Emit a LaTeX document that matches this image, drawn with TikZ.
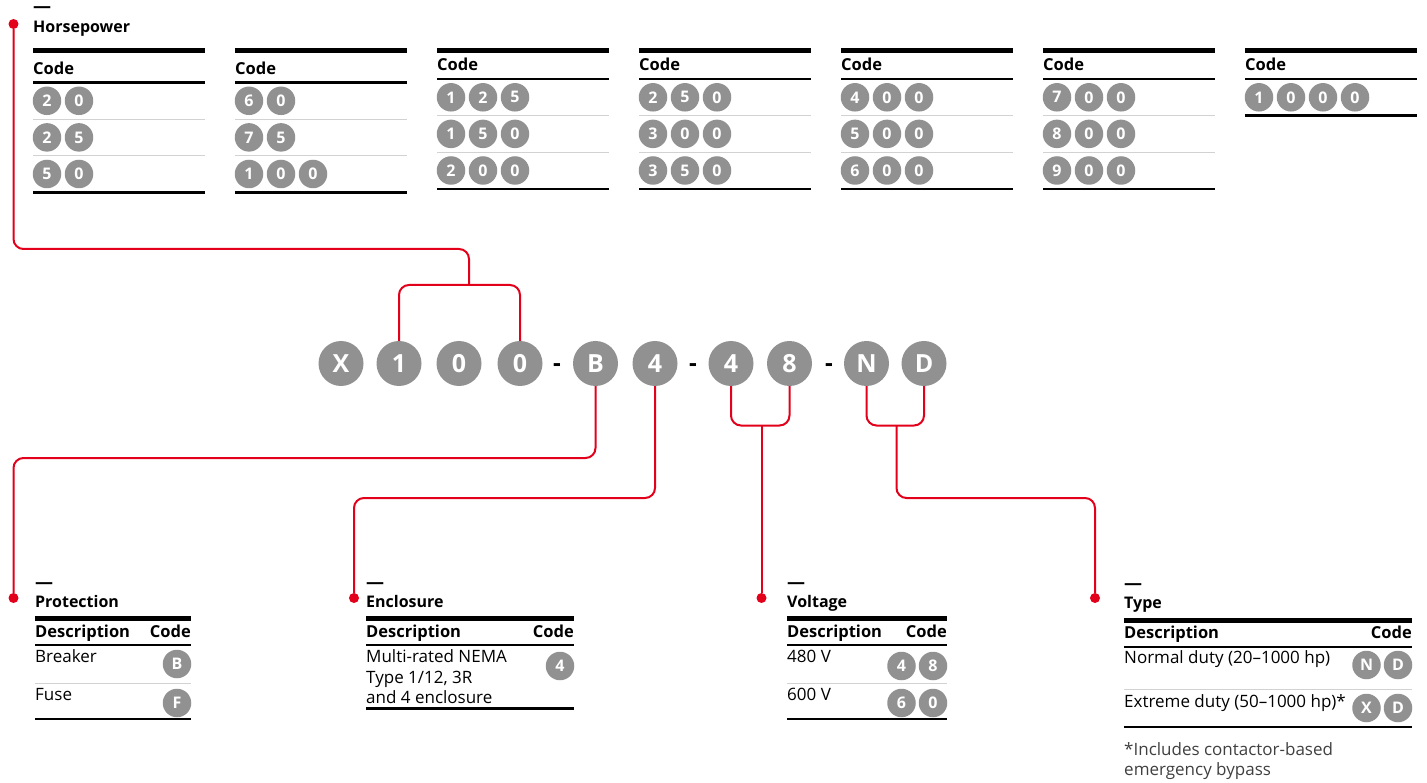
\documentclass[tikz,border=0pt]{standalone}
\usepackage{fontspec}
\setmainfont{Open Sans}
\usepackage{tikz}
\usetikzlibrary{positioning,calc}
\definecolor{abbred}{RGB}{226,0,26}
\definecolor{codegray}{RGB}{145,145,145}
\definecolor{rowline}{RGB}{210,210,210}
\tikzset{
  bigcode/.style={circle, fill=codegray, text=white, minimum size=45pt,
                  inner sep=0pt, font=\fontsize{25}{25}\selectfont\bfseries},
  code/.style={circle, fill=codegray, text=white, minimum size=28.5pt,
               inner sep=0pt, font=\fontsize{16}{16}\selectfont\bfseries},
  dashsign/.style={anchor=base, inner sep=0pt,
                   font=\fontsize{24}{24}\selectfont\bfseries},
  reddot/.style={circle, fill=abbred, minimum size=10pt, inner sep=0pt},
  redline/.style={draw=abbred, line width=2pt, rounded corners=10pt},
  headdash/.style={anchor=base west, inner sep=0pt,
                   font=\fontsize{18}{18}\selectfont\bfseries},
  head/.style={anchor=base west, inner sep=0pt,
               font=\fontsize{16}{16}\selectfont\bfseries},
  colhead/.style={anchor=base west, inner sep=0pt,
                  font=\fontsize{16.5}{16.5}\selectfont\bfseries},
  txt/.style={anchor=base west, inner sep=0pt,
              font=\fontsize{17}{17}\selectfont},
  note/.style={txt, text=black!75},
  toprule/.style={line width=5pt},
  midrule/.style={line width=2.5pt},
  rowrule/.style={draw=rowline, line width=1pt},
  botrule/.style={line width=2.5pt},
}

\begin{document}
\begin{tikzpicture}[x=1pt, y=-1pt]
    \useasboundingbox (0,0) rectangle (1427,783);

    % horsepower tables
    \node[headdash] (hpdash) at (33,13) {—};
    \node[head] (hptitle) at (33,33) {Horsepower};
    \foreach \col/\dy/\n/\codes in {
        0/3.5/3/{{2,0},{2,5},{5,0}},
        1/3.5/3/{{6,0},{7,5},{1,0,0}},
        2/0/3/{{1,2,5},{1,5,0},{2,0,0}},
        3/0/3/{{2,5,0},{3,0,0},{3,5,0}},
        4/0/3/{{4,0,0},{5,0,0},{6,0,0}},
        5/0/3/{{7,0,0},{8,0,0},{9,0,0}},
        6/0/1/{{1,0,0,0}}}{
      \pgfmathsetmacro{\xl}{33+202*\col}
      \pgfmathsetmacro{\xr}{\xl+172}
      \pgfmathsetmacro{\hr}{79+\dy}
      \draw[toprule] (\xl,51) -- (\xr,51);
      \node[colhead] (hpcode\col) at (\xl,71+\dy) {Code};
      \draw[midrule] (\xl,\hr) -- (\xr,\hr);
      \foreach \code [count=\r] in \codes {
        \pgfmathsetmacro{\yc}{\hr+18.3+36.6*(\r-1)}
        \foreach \d [count=\k] in \code {
          \node[code] (hp\col r\r d\k) at ({\xl+14+32*(\k-1)},\yc) {\d};
        }
        \ifnum\r>1
          \draw[rowrule] (\xl,{\hr+36.6*(\r-1)}) -- (\xr,{\hr+36.6*(\r-1)});
        \fi
      }
      \draw[botrule] (\xl,{\hr+36.6*\n}) -- (\xr,{\hr+36.6*\n});
    }

    % model code
    \node[bigcode] (codeX) at (341,363.5) {X};
    \node[bigcode] (codeH1) at (399,363.5) {1};
    \node[bigcode] (codeH2) at (459,363.5) {0};
    \node[bigcode] (codeH3) at (520,363.5) {0};
    \node[dashsign] (dashA) at (557,372) {-};
    \node[bigcode] (codeP) at (595.5,363.5) {B};
    \node[bigcode] (codeE) at (655,363.5) {4};
    \node[dashsign] (dashB) at (693,372) {-};
    \node[bigcode] (codeV1) at (731,363.5) {4};
    \node[bigcode] (codeV2) at (789.5,363.5) {8};
    \node[dashsign] (dashC) at (829,372) {-};
    \node[bigcode] (codeT1) at (866.5,363.5) {N};
    \node[bigcode] (codeT2) at (924,363.5) {D};

    % red leaders
    \node[reddot] (hpdot) at (13.5,24) {};
    \node[reddot] (protdot) at (13.5,598) {};
    \node[reddot] (encdot) at (354,598) {};
    \node[reddot] (voltdot) at (761.5,598) {};
    \node[reddot] (typedot) at (1095,598) {};
    \coordinate (hpbend) at (469,249);
    \coordinate (hpjoin) at (469,285);
    \coordinate (protbend) at (13.5,458);
    \coordinate (encbend) at (354,498);
    \coordinate (voltjoin) at (761.5,425.5);
    \coordinate (typejoin) at (896.5,425.5);
    \coordinate (typebend) at (1095,498);
    \draw[redline] (hpdot) |- (hpbend) -- (hpjoin);
    \draw[redline] (codeH1.north) |- (hpjoin) -| (codeH3.north);
    \draw[redline] (codeP.south) |- (protbend) -- (protdot);
    \draw[redline] (codeE.south) |- (encbend) -- (encdot);
    \draw[redline] (codeV1.south) |- (voltjoin) -| (codeV2.south);
    \draw[redline] (voltjoin) -- (voltdot);
    \draw[redline] (codeT1.south) |- (typejoin) -| (codeT2.south);
    \draw[redline] (typejoin) |- (typebend) -- (typedot);

    % protection
    \node[headdash] (protdash) at (35,588) {—};
    \node[head] (prottitle) at (35,607) {Protection};
    \draw[toprule] (35,618) -- (191,618);
    \node[colhead] (protdesc) at (35,637.5) {Description};
    \node[colhead, anchor=base east] (protcode) at (191,637.5) {Code};
    \draw[midrule] (35,645) -- (191,645);
    \node[txt] (protrow1) at (35,662) {Breaker};
    \node[code] (protB) at (177,664) {B};
    \draw[rowrule] (35,683) -- (191,683);
    \node[txt] (protrow2) at (35,700) {Fuse};
    \node[code] (protF) at (177,703) {F};
    \draw[botrule] (35,719) -- (191,719);

    % enclosure
    \node[headdash] (encdash) at (366,588) {—};
    \node[head] (enctitle) at (366,607) {Enclosure};
    \draw[toprule] (366,618) -- (574,618);
    \node[colhead] (encdesc) at (366,637.5) {Description};
    \node[colhead, anchor=base east] (enccode) at (574,637.5) {Code};
    \draw[midrule] (366,645) -- (574,645);
    \node[txt] (encrow1) at (366,662) {Multi-rated NEMA};
    \node[txt] (encrow2) at (366,683) {Type 1/12, 3R};
    \node[txt] (encrow3) at (366,703) {and 4 enclosure};
    \node[code] (enc4) at (560,666) {4};
    \draw[botrule] (366,708.5) -- (574,708.5);

    % voltage
    \node[headdash] (voltdash) at (787,588) {—};
    \node[head] (volttitle) at (787,607) {Voltage};
    \draw[toprule] (787,618) -- (947,618);
    \node[colhead] (voltdesc) at (787,637.5) {Description};
    \node[colhead, anchor=base east] (voltcode) at (947,637.5) {Code};
    \draw[midrule] (787,645) -- (947,645);
    \node[txt] (voltrow1) at (787,662) {480 V};
    \node[code] (volt4) at (901.5,666) {4};
    \node[code] (volt8) at (933,666) {8};
    \draw[rowrule] (787,683) -- (947,683);
    \node[txt] (voltrow2) at (787,700) {600 V};
    \node[code] (volt6) at (901.5,703) {6};
    \node[code] (volt0) at (933,703) {0};
    \draw[botrule] (787,719) -- (947,719);

    % type
    \node[headdash] (typedash) at (1124,589) {—};
    \node[head] (typetitle) at (1124,608) {Type};
    \draw[toprule] (1124,620) -- (1412,620);
    \node[colhead] (typedesc) at (1124,638.5) {Description};
    \node[colhead, anchor=base east] (typecode) at (1412,638.5) {Code};
    \draw[midrule] (1124,647) -- (1412,647);
    \node[txt] (typerow1) at (1124,663) {Normal duty (20–1000 hp)};
    \node[code] (typeN) at (1366.5,665) {N};
    \node[code] (typeD1) at (1398,665) {D};
    \draw[rowrule] (1124,689) -- (1412,689);
    \node[txt] (typerow2) at (1124,707) {Extreme duty (50–1000 hp)*};
    \node[code] (typeX) at (1366.5,708) {X};
    \node[code] (typeD2) at (1398,708) {D};
    \draw[botrule] (1124,727) -- (1412,727);
    \node[note] (typenote1) at (1124,755) {*Includes contactor-based};
    \node[note] (typenote2) at (1124,775) {emergency bypass};
\end{tikzpicture}
\end{document}
